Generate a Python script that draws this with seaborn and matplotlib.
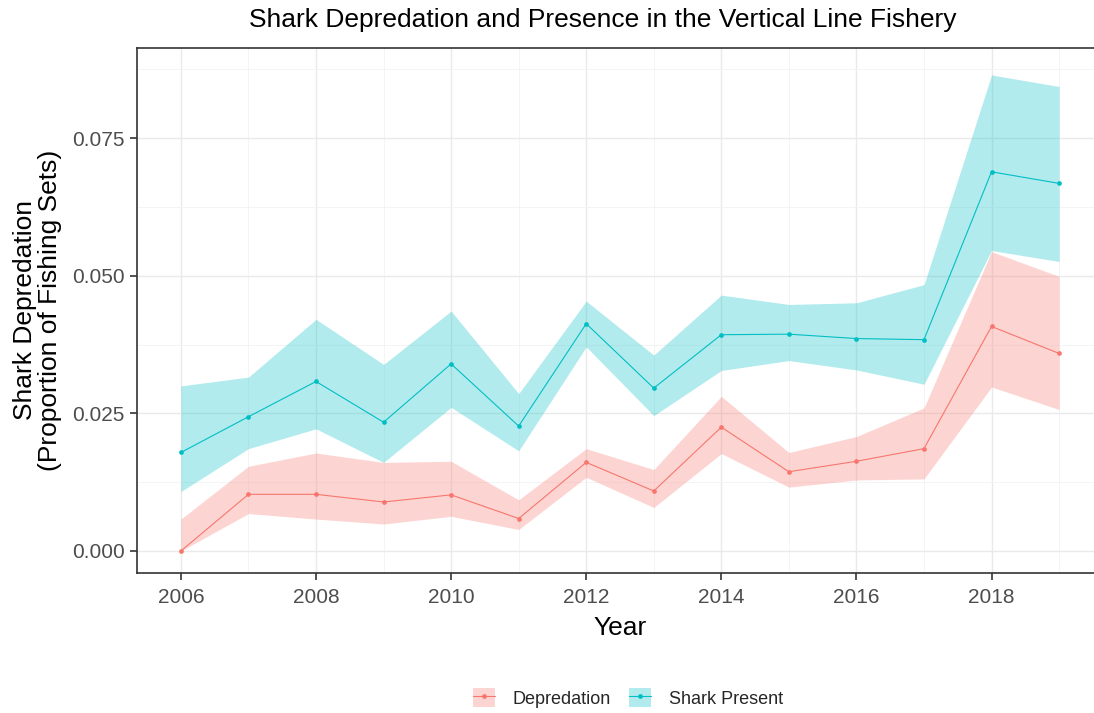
import numpy as np
import pandas as pd
import seaborn as sns
import matplotlib
matplotlib.use("Agg")
import matplotlib.pyplot as plt
from matplotlib.patches import Patch
from matplotlib.lines import Line2D
from matplotlib.ticker import FixedLocator
from matplotlib.legend_handler import HandlerTuple

years = [2006, 2007, 2008, 2009, 2010, 2011, 2012, 2013, 2014, 2015, 2016, 2017, 2018, 2019]

dep_mean = [0.0000, 0.0103, 0.0103, 0.0089, 0.0102, 0.0059, 0.0161, 0.0109, 0.0225, 0.0144, 0.0163, 0.0186, 0.0408, 0.0359]
dep_lo   = [0.0000, 0.0068, 0.0058, 0.0049, 0.0063, 0.0039, 0.0134, 0.0079, 0.0177, 0.0116, 0.0129, 0.0131, 0.0298, 0.0257]
dep_hi   = [0.0058, 0.0154, 0.0178, 0.0161, 0.0163, 0.0093, 0.0186, 0.0148, 0.0281, 0.0179, 0.0208, 0.0260, 0.0544, 0.0499]

shk_mean = [0.0179, 0.0244, 0.0308, 0.0234, 0.0340, 0.0227, 0.0413, 0.0296, 0.0393, 0.0394, 0.0386, 0.0384, 0.0689, 0.0668]
shk_lo   = [0.0108, 0.0186, 0.0222, 0.0161, 0.0261, 0.0182, 0.0371, 0.0246, 0.0328, 0.0346, 0.0329, 0.0303, 0.0546, 0.0526]
shk_hi   = [0.0300, 0.0316, 0.0421, 0.0339, 0.0436, 0.0286, 0.0454, 0.0356, 0.0465, 0.0448, 0.0451, 0.0484, 0.0865, 0.0844]

series = ["Depredation", "Shark Present"]
colors = {"Depredation": "#F8766D", "Shark Present": "#00BFC4"}

x_major = [2006, 2008, 2010, 2012, 2014, 2016, 2018]
x_minor = [2007, 2009, 2011, 2013, 2015, 2017, 2019]
y_major = [0.0, 0.025, 0.05, 0.075]
y_minor = [0.0125, 0.0375, 0.0625, 0.0875]
y_labels = ["0.000", "0.025", "0.050", "0.075"]

df = pd.DataFrame({
    "Year": years * 2,
    "value": dep_mean + shk_mean,
    "series": [series[0]] * len(years) + [series[1]] * len(years),
})

sns.set_theme(style="white")
plt.rcParams["font.family"] = ["Liberation Sans", "DejaVu Sans"]

fig = plt.figure(figsize=(10.94, 7.13), dpi=100)
ax = fig.add_axes([137 / 1094, 1 - 573 / 713, (1103 - 137) / 1094, (573 - 48) / 713])

# ribbons
ax.fill_between(years, dep_lo, dep_hi, color=colors["Depredation"], alpha=0.3, linewidth=0, zorder=2)
ax.fill_between(years, shk_lo, shk_hi, color=colors["Shark Present"], alpha=0.3, linewidth=0, zorder=2)

sns.lineplot(data=df, x="Year", y="value", hue="series", palette=colors,
             marker="o", markersize=3.4, markeredgewidth=0, linewidth=0.8,
             ax=ax, legend=False, zorder=3)

ax.set_xlim(2005.35, 2019.65)
ax.set_ylim(-0.0040, 0.0914)

ax.xaxis.set_major_locator(FixedLocator(x_major))
ax.xaxis.set_minor_locator(FixedLocator(x_minor))
ax.yaxis.set_major_locator(FixedLocator(y_major))
ax.yaxis.set_minor_locator(FixedLocator(y_minor))
ax.set_yticklabels(y_labels)

ax.grid(True, which="major", color="#EAEAEA", linewidth=1.0, zorder=0)
ax.grid(True, which="minor", color="#F3F3F3", linewidth=0.6, zorder=0)
ax.set_axisbelow(True)

for s in ax.spines.values():
    s.set_color("#333333")
    s.set_linewidth(1.2)

ax.tick_params(axis="both", which="major", direction="out", length=5, width=1.2,
               color="#333333", labelsize=15, labelcolor="#4D4D4D", pad=4)
ax.tick_params(axis="x", which="major", pad=6)
ax.tick_params(axis="both", which="minor", length=0)
ax.tick_params(axis="x", bottom=True)
ax.tick_params(axis="y", left=True)

ax.set_xlabel("Year", fontsize=19, color="black", labelpad=6)
ax.set_ylabel("Shark Depredation\n(Proportion of Fishing Sets)", fontsize=19, color="black",
              labelpad=7, linespacing=1.05)

fig.text(603 / 1094, 1 - 20 / 713, "Shark Depredation and Presence in the Vertical Line Fishery",
         ha="center", va="center", fontsize=19, color="black")

handles = []
for s in series:
    handles.append((Patch(facecolor=colors[s], alpha=0.3, edgecolor="none"),
                    Line2D([0], [0], color=colors[s], linewidth=0.8, marker="o",
                           markersize=3.4, markeredgewidth=0)))
fig.legend(handles, series, loc="center", bbox_to_anchor=(628 / 1094, 1 - 698 / 713),
           ncol=2, frameon=False, fontsize=13,
           handler_map={tuple: HandlerTuple(ndivide=1, pad=0)},
           handlelength=1.2, handleheight=1.2, columnspacing=1.0, handletextpad=1.0)

fig.savefig("out.png", dpi=100)
